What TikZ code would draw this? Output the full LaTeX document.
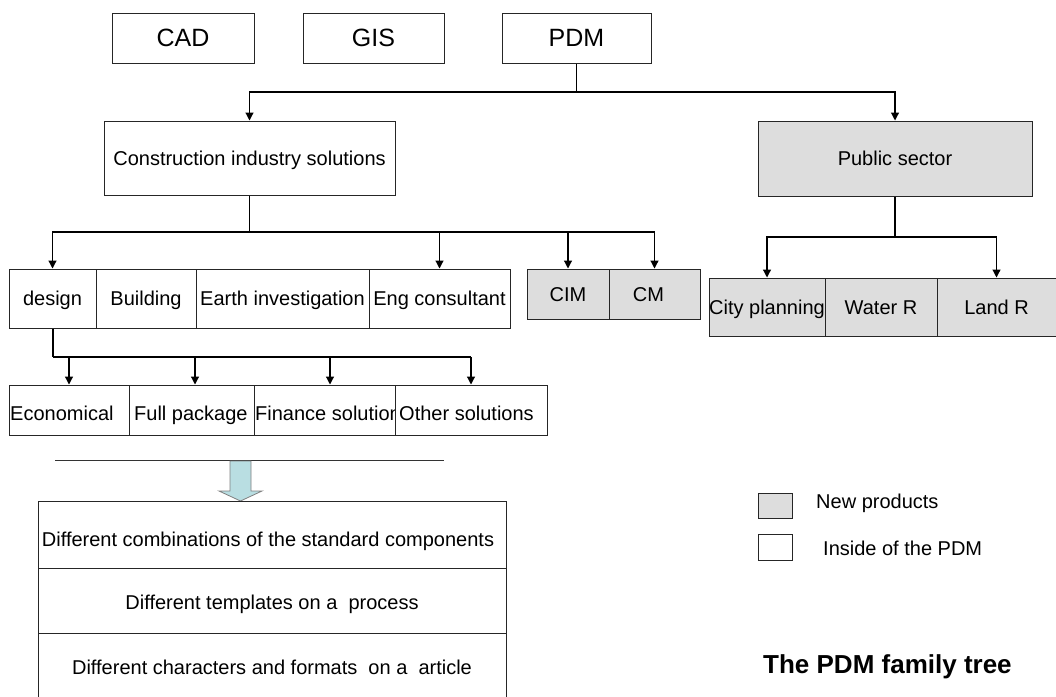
\documentclass[tikz,border=0pt]{standalone}
\usepackage{fontspec}
\setmainfont{Liberation Sans}
\usetikzlibrary{arrows.meta}
\definecolor{newgray}{RGB}{221,221,221}
\definecolor{flowblue}{RGB}{185,222,226}
% \bx{name}{x1}{y1}{x2}{y2}{style}{text}: a box given by its corners
\newcommand\bx[7]{\node[#6, minimum width={#4-#2}, minimum height={#5-#3}] (#1) at ({(#2+#4)/2},{(#3+#5)/2}) {#7};}
\begin{document}
\begin{tikzpicture}[x=1pt,y=-1pt,
  box/.style={draw=black!85, fill=white, line width=1pt, inner sep=0pt,
    font=\fontsize{20}{24}\selectfont, text height=14.3pt, text depth=0pt},
  newbox/.style={box, fill=newgray},
  topbox/.style={box, font=\fontsize{25}{30}\selectfont, text height=17.9pt},
  conn/.style={draw=black, line width=1.2pt},
  thickconn/.style={draw=black, line width=2pt},
  arr/.style={conn, -{Triangle[length=8pt,width=8pt]}},
  basetext/.style={font=\fontsize{20}{24}\selectfont, inner sep=0pt, anchor=base west},
]
\useasboundingbox (0,0) rectangle (1056,696);
\clip (0,0) rectangle (1056,696);

% top level systems
\bx{cad}{112}{13}{254}{63}{topbox}{CAD}
\bx{gis}{303}{13}{444}{63}{topbox}{GIS}
\bx{pdm}{502}{13}{651}{63}{topbox}{PDM}

% second level
\bx{cons}{104}{121}{395}{195}{box}{Construction industry solutions}
\bx{pub}{758}{121}{1032}{196}{newbox}{Public sector}

% construction branches
\bx{design}{9}{269}{96}{328}{box}{design}
\bx{build}{96}{269}{196}{328}{box}{Building}
\bx{earth}{196}{269}{369}{328}{box}{Earth investigation}
\bx{eng}{369}{269}{510}{328}{box}{Eng consultant}
\bx{cim}{527}{269}{609}{319}{newbox}{CIM}
\bx{cm}{609}{269}{700}{319}{newbox}{CM\hspace*{12pt}}

% public sector branches
\bx{city}{709}{278}{825}{336}{newbox}{City planning}
\bx{water}{825}{278}{937}{336}{newbox}{Water R}
\bx{land}{937}{278}{1056}{336}{newbox}{Land R}

% design solutions (each box covers the overflow of the text before it)
\bx{econ}{9}{385}{129}{435}{box}{}
\node[basetext] (econ-t) at (10,420) {Economical};
\bx{full}{129}{385}{254}{435}{box}{}
\node[basetext] (full-t) at (134,420) {Full package};
\bx{fin}{254}{385}{395}{435}{box}{}
\node[basetext] (fin-t) at (255,420) {Finance solution};
\bx{other}{395}{385}{547}{435}{box}{}
\node[basetext] (other-t) at (399,420) {Other solutions};

% connectors
\coordinate (j1) at (pdm.south |- 0,92);
\draw[conn] (pdm.south) -- (j1);
\draw[arr] (j1) -| (cons.north);
\draw[arr] (j1) -| (pub.north);

\coordinate (j2) at (cons.south |- 0,232);
\draw[conn] (cons.south) -- (j2);
\draw[arr] (j2) -| (design.north);
\draw[arr] (j2) -| (eng.north);
\draw[arr] (j2) -| (cim.north);
\draw[arr] (j2) -| (cm.north);

\coordinate (j3) at (pub.south |- 0,237);
\draw[conn] (pub.south) -- (j3);
\draw[arr] (j3) -| (city.north);
\draw[arr] (j3) -| (land.north);

\coordinate (j4) at (design.south |- 0,357);
\coordinate (fullin) at ([xshift=3.5pt]full.north);
\coordinate (finin) at ([xshift=5.5pt]fin.north);
\draw[thickconn] (design.south) -- (j4);
\draw[thickconn] (j4) -- (other.north |- j4);
\draw[arr] (j4 -| econ.north) -- (econ.north);
\draw[arr] (j4 -| fullin) -- (fullin);
\draw[arr] (j4 -| finin) -- (finin);
\draw[arr] (j4 -| other.north) -- (other.north);

% separator and flow arrow
\coordinate (sepL) at (55,460);
\coordinate (sepR) at (444,460);
\draw[black!80, line width=0.8pt] (sepL) -- (sepR);
\draw[draw=black!50, fill=flowblue, line width=0.8pt]
  (230,461) -- (251,461) -- (251,491) -- (262,491) -- (240.5,501)
  -- (219,491) -- (230,491) -- cycle;

% variants stack
\bx{s1}{38}{501}{506}{568}{box}{}
\bx{s2}{38}{568}{506}{633}{box}{}
\bx{s3}{38}{633}{506}{700}{box}{}
\node[basetext, anchor=base] (s1-t) at (268,546) {Different combinations of the standard components};
\node[basetext, anchor=base] (s2-t) at (272,609) {Different templates on a\ \ process};
\node[basetext, anchor=base] (s3-t) at (272,674) {Different characters and formats\ \ on a\ \ article};

% legend
\bx{lgnew}{758}{493}{792}{518}{newbox}{}
\bx{lgin}{758}{534}{792}{560}{box}{}
\node[basetext] (lgnew-t) at (816,508) {New products};
\node[basetext] (lgin-t) at (823,555) {Inside of the PDM};

% title
\node[anchor=base west, inner sep=0pt, font=\fontsize{26}{31}\selectfont\bfseries] (title) at (763,673) {The PDM family tree};
\end{tikzpicture}
\end{document}
